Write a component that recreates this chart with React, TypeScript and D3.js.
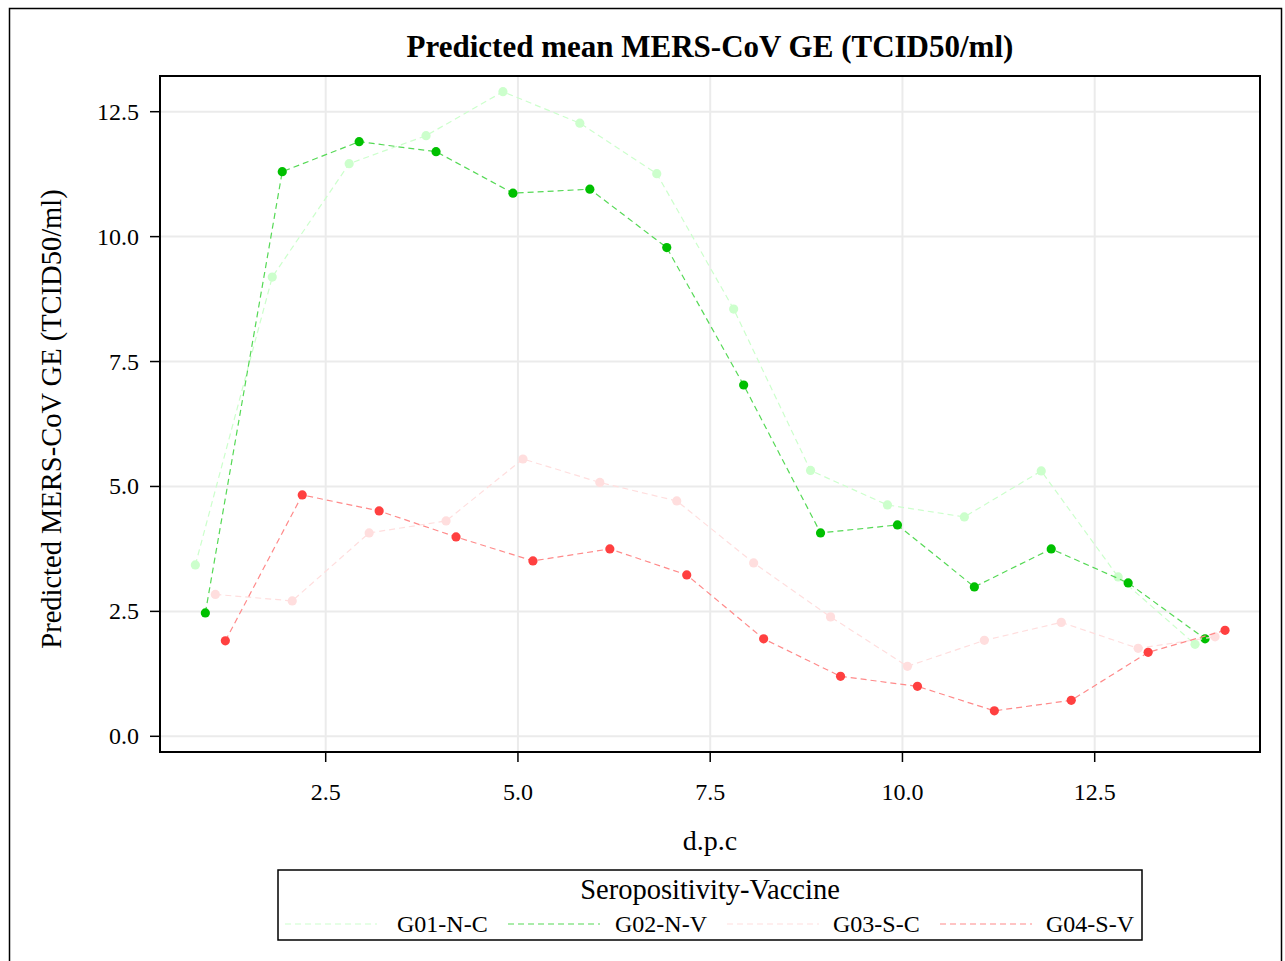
import React from "react";
import * as d3 from "d3";

const days = [1, 2, 3, 4, 5, 6, 7, 8, 9, 10, 11, 12, 13, 14];
const groupNames = ["G01-N-C", "G02-N-V", "G03-S-C", "G04-S-V"];
const groupOffsets = [-0.195, -0.065, 0.065, 0.195];
const markerColors = ["#ccffcc", "#00c000", "#ffdede", "#ff4040"];
const lineColors = ["#ccffcc", "#55d955", "#ffdede", "#ff8a8a"];

const g01 = [3.43, 9.19, 11.46, 12.02, 12.9, 12.27, 11.26, 8.55, 5.32, 4.63, 4.39, 5.31, 3.19, 1.84];
const g02 = [2.47, 11.3, 11.9, 11.7, 10.87, 10.95, 9.78, 7.03, 4.07, 4.23, 2.99, 3.75, 3.07, 1.95];
const g03 = [2.84, 2.71, 4.07, 4.31, 5.55, 5.08, 4.71, 3.47, 2.39, 1.4, 1.92, 2.28, 1.76, 1.99];
const g04 = [1.91, 4.83, 4.51, 3.99, 3.51, 3.75, 3.23, 1.95, 1.2, 1.0, 0.51, 0.72, 1.68, 2.12];
const seriesValues = [g01, g02, g03, g04];

const xTicks = [2.5, 5.0, 7.5, 10.0, 12.5];
const yTicks = [0.0, 2.5, 5.0, 7.5, 10.0, 12.5];

const title = "Predicted mean MERS-CoV GE (TCID50/ml)";
const xLabel = "d.p.c";
const yLabel = "Predicted MERS-CoV GE (TCID50/ml)";
const legendTitle = "Seropositivity-Vaccine";

const W = 1285;
const H = 961;
const plot = { left: 160, right: 1260, top: 76, bottom: 752 };
const font = "'Liberation Serif', 'Times New Roman', serif";

export default function App() {
  // calibrated: 2.5 -> 325.7, 12.5 -> 1094.7 ; 0 -> 736.3, 12.5 -> 111.7
  const xs = d3.scaleLinear().domain([2.5, 12.5]).range([325.7, 1094.7]);
  const y = d3.scaleLinear().domain([0, 12.5]).range([736.3, 111.7]);

  const line = d3
    .line<[number, number]>()
    .x((d) => xs(d[0]))
    .y((d) => y(d[1]));

  const legendItems = [
    { lx: 285, tx: 397 },
    { lx: 508, tx: 615 },
    { lx: 727, tx: 833 },
    { lx: 940, tx: 1046 },
  ];

  return (
    <svg width={W} height={H} style={{ display: "block", position: "absolute", left: 0, top: 0 }} fontFamily={font}>
      <rect x={0} y={0} width={W} height={H} fill="#fff" />
      <rect x={9.5} y={8.5} width={1272} height={H + 10} fill="none" stroke="#000" strokeWidth={1.5} />
      <text x={(plot.left + plot.right) / 2} y={57} textAnchor="middle" fontSize={31} fontWeight="bold">
        {title}
      </text>

      {/* gridlines */}
      <g stroke="#ebebeb" strokeWidth={2}>
        {xTicks.map((t) => (
          <line key={"gx" + t} x1={xs(t)} x2={xs(t)} y1={plot.top} y2={plot.bottom} />
        ))}
        {yTicks.map((t) => (
          <line key={"gy" + t} x1={plot.left} x2={plot.right} y1={y(t)} y2={y(t)} />
        ))}
      </g>

      {/* series */}
      {seriesValues.map((vals, gi) => {
        const pts: [number, number][] = days.map((d, i) => [d + groupOffsets[gi], vals[i]]);
        return (
          <g key={"s" + gi}>
            <path d={line(pts) || ""} fill="none" stroke={lineColors[gi]} strokeWidth={1.2} strokeDasharray="6,4" />
            {pts.map((p, i) => (
              <circle key={i} cx={xs(p[0])} cy={y(p[1])} r={4.6} fill={markerColors[gi]} />
            ))}
          </g>
        );
      })}

      {/* frame */}
      <rect
        x={plot.left}
        y={plot.top}
        width={plot.right - plot.left}
        height={plot.bottom - plot.top}
        fill="none"
        stroke="#000"
        strokeWidth={2}
      />

      {/* y axis */}
      {yTicks.map((t) => (
        <g key={"yt" + t}>
          <line x1={plot.left - 10} x2={plot.left} y1={y(t)} y2={y(t)} stroke="#000" strokeWidth={1.5} />
          <text x={139} y={y(t) + 8} textAnchor="end" fontSize={24}>
            {d3.format(".1f")(t)}
          </text>
        </g>
      ))}
      {/* x axis */}
      {xTicks.map((t) => (
        <g key={"xt" + t}>
          <line x1={xs(t)} x2={xs(t)} y1={plot.bottom} y2={plot.bottom + 10} stroke="#000" strokeWidth={1.5} />
          <text x={xs(t)} y={800} textAnchor="middle" fontSize={24}>
            {d3.format(".1f")(t)}
          </text>
        </g>
      ))}

      <text x={(plot.left + plot.right) / 2} y={850} textAnchor="middle" fontSize={28}>
        {xLabel}
      </text>
      <text
        transform={`translate(61, ${(plot.top + plot.bottom) / 2 + 5}) rotate(-90)`}
        textAnchor="middle"
        fontSize={28.5}
      >
        {yLabel}
      </text>

      {/* legend */}
      <rect x={278} y={870} width={864} height={70} fill="none" stroke="#000" strokeWidth={1.5} />
      <text x={710} y={899} textAnchor="middle" fontSize={28.5}>
        {legendTitle}
      </text>
      {legendItems.map((it, gi) => (
        <g key={"lg" + gi}>
          <line
            x1={it.lx}
            x2={it.lx + 92}
            y1={924}
            y2={924}
            stroke={lineColors[gi]}
            strokeWidth={1.2}
            strokeDasharray="6,4"
          />
          <text x={it.tx} y={932} fontSize={24}>
            {groupNames[gi]}
          </text>
        </g>
      ))}
    </svg>
  );
}
